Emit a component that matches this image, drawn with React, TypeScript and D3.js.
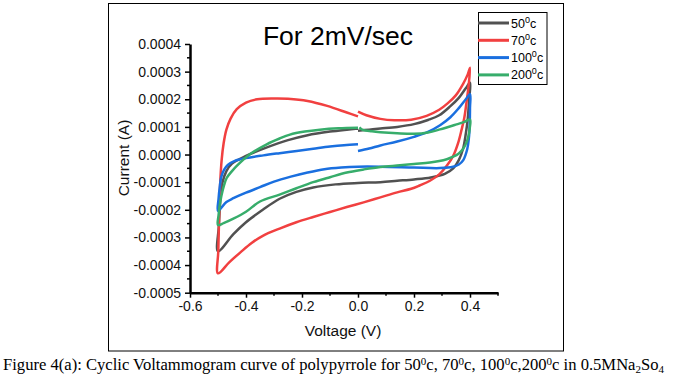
import React, { useEffect, useRef } from "react";
import * as d3 from "d3";

// axis ticks
const xTicks = [-0.6, -0.4, -0.2, 0.0, 0.2, 0.4];
const xMinor = [-0.5, -0.3, -0.1, 0.1, 0.3, 0.5];
const yTicks = [0.0004, 0.0003, 0.0002, 0.0001, 0, -0.0001, -0.0002, -0.0003, -0.0004, -0.0005];
const yMinor = [0.00035, 0.00025, 0.00015, 0.00005, -0.00005, -0.00015, -0.00025, -0.00035, -0.00045];

const temps = ["50", "70", "100", "200"];
const colors = ["#515151", "#F14040", "#1A6FDF", "#37AD6B"];

// [voltage (V), current (x1e-4 A)] — scan: 0 -> 0.4 -> -0.5 -> 0
const cv50: [number, number][] = [
  [0.0, 0.86], [0.04, 0.9], [0.08, 0.94], [0.14, 1.0], [0.2, 1.1], [0.25, 1.25], [0.29, 1.42],
  [0.33, 1.75], [0.36, 2.05], [0.385, 2.4], [0.4, 2.6],
  [0.397, 2.0], [0.392, 1.3], [0.385, 0.75], [0.375, 0.2], [0.36, -0.2], [0.34, -0.5], [0.31, -0.7],
  [0.26, -0.83], [0.2, -0.9], [0.14, -0.95], [0.08, -1.0], [0.0, -1.03], [-0.08, -1.08], [-0.16, -1.19],
  [-0.22, -1.35], [-0.28, -1.6], [-0.34, -2.0], [-0.4, -2.45], [-0.445, -2.88], [-0.5, -3.5],
  [-0.497, -2.6], [-0.492, -1.7], [-0.485, -1.05], [-0.47, -0.6], [-0.45, -0.33], [-0.4, -0.05],
  [-0.33, 0.24], [-0.25, 0.52], [-0.18, 0.7], [-0.1, 0.83], [-0.04, 0.9], [0.0, 0.94],
];

const cv70: [number, number][] = [
  [0.0, 1.55], [0.03, 1.42], [0.08, 1.29], [0.13, 1.24], [0.19, 1.26], [0.245, 1.4], [0.29, 1.62],
  [0.32, 1.85], [0.35, 2.15], [0.375, 2.55], [0.392, 2.9], [0.4, 3.14],
  [0.394, 2.4], [0.387, 1.85], [0.38, 1.35], [0.37, 0.9], [0.358, 0.43], [0.34, -0.05], [0.317, -0.41],
  [0.29, -0.72], [0.257, -0.95], [0.22, -1.12], [0.19, -1.24], [0.14, -1.37], [0.08, -1.55], [0.02, -1.73],
  [-0.04, -1.9], [-0.1, -2.08], [-0.16, -2.26], [-0.22, -2.45], [-0.28, -2.68], [-0.34, -2.94],
  [-0.38, -3.2], [-0.42, -3.54], [-0.46, -3.9], [-0.5, -4.3],
  [-0.499, -3.5], [-0.496, -2.3], [-0.492, -1.0], [-0.487, -0.2], [-0.48, 0.4], [-0.47, 0.9],
  [-0.455, 1.3], [-0.433, 1.64], [-0.4, 1.88], [-0.36, 2.0], [-0.3, 2.03], [-0.25, 2.02],
  [-0.18, 1.94], [-0.11, 1.76], [-0.04, 1.52], [0.0, 1.38],
];

const cv100: [number, number][] = [
  [0.0, 0.13], [0.04, 0.22], [0.08, 0.33], [0.14, 0.47], [0.2, 0.64], [0.25, 0.82], [0.293, 1.06],
  [0.33, 1.35], [0.36, 1.68], [0.385, 2.0], [0.4, 2.18],
  [0.4, 1.7], [0.399, 1.1], [0.396, 0.6], [0.39, 0.19], [0.376, -0.2], [0.36, -0.36], [0.34, -0.44],
  [0.293, -0.49], [0.2, -0.47], [0.08, -0.44], [0.0, -0.44], [-0.06, -0.47], [-0.12, -0.53],
  [-0.18, -0.65], [-0.24, -0.8], [-0.3, -0.98], [-0.35, -1.18], [-0.4, -1.38], [-0.445, -1.58],
  [-0.47, -1.72], [-0.5, -2.04],
  [-0.498, -1.6], [-0.494, -1.2], [-0.488, -0.8], [-0.478, -0.55], [-0.465, -0.38], [-0.44, -0.23],
  [-0.4, -0.13], [-0.338, -0.03], [-0.28, 0.05], [-0.219, 0.13], [-0.16, 0.21], [-0.1, 0.29],
  [-0.05, 0.34], [0.0, 0.37],
];

const cv200: [number, number][] = [
  [0.005, 0.98], [0.017, 0.89], [0.05, 0.84], [0.08, 0.81], [0.14, 0.77], [0.2, 0.75], [0.25, 0.8],
  [0.293, 0.91], [0.352, 1.09], [0.38, 1.18], [0.4, 1.27],
  [0.399, 0.95], [0.395, 0.7], [0.388, 0.45], [0.375, 0.2], [0.36, 0.04], [0.34, -0.08], [0.317, -0.17],
  [0.257, -0.29], [0.2, -0.34], [0.15, -0.39], [0.08, -0.45], [0.02, -0.54], [-0.04, -0.65],
  [-0.1, -0.82], [-0.16, -1.0], [-0.22, -1.22], [-0.28, -1.45], [-0.35, -1.7], [-0.4, -2.07],
  [-0.445, -2.32], [-0.48, -2.48], [-0.5, -2.55],
  [-0.498, -2.2], [-0.494, -1.85], [-0.488, -1.5], [-0.478, -1.1], [-0.469, -0.85], [-0.45, -0.6],
  [-0.433, -0.41], [-0.386, 0.01], [-0.326, 0.37], [-0.28, 0.58], [-0.243, 0.72], [-0.19, 0.83],
  [-0.136, 0.9], [-0.07, 0.95], [0.0, 0.97],
];

const curves = [cv50, cv70, cv100, cv200];

const SANS = "'Liberation Sans', Arial, sans-serif";
const SERIF = "'Liberation Serif', 'Times New Roman', serif";

const App = () => {
  const ref = useRef<SVGSVGElement>(null);

  useEffect(() => {
    const svg = d3.select(ref.current);
    svg.selectAll("*").remove();

    const x = d3.scaleLinear().domain([-0.6, 0.5]).range([190, 498]);
    const y = d3.scaleLinear().domain([-0.0005, 0.0004]).range([292.7, 44]);

    // outer frame
    svg.append("rect")
      .attr("x", 108.5).attr("y", 3.5).attr("width", 455).attr("height", 347.5)
      .attr("fill", "none").attr("stroke", "#000").attr("stroke-width", 1);

    // curves
    const line = d3.line<[number, number]>()
      .x((d) => x(d[0]))
      .y((d) => y(d[1] * 1e-4))
      .curve(d3.curveCatmullRom.alpha(0.5));

    svg.append("g")
      .selectAll("path")
      .data(curves)
      .enter()
      .append("path")
      .attr("d", (d) => line(d))
      .attr("fill", "none")
      .attr("stroke", (d, i) => colors[i])
      .attr("stroke-width", 2.5)
      .attr("stroke-linejoin", "round");

    // axes
    const xAxis = svg.append("g")
      .attr("transform", `translate(0,${y(-0.0005)})`)
      .call(d3.axisBottom(x).tickValues(xTicks).tickSize(5).tickSizeOuter(0).tickPadding(3)
        .tickFormat((d) => (d as number).toFixed(1)));
    xAxis.append("g").selectAll("line").data(xMinor).enter().append("line")
      .attr("x1", (d) => x(d)).attr("x2", (d) => x(d)).attr("y1", 0).attr("y2", 3)
      .attr("stroke", "#000").attr("stroke-width", 1.5);

    const yAxis = svg.append("g")
      .attr("transform", `translate(${x(-0.6)},0)`)
      .call(d3.axisLeft(y).tickValues(yTicks).tickSize(5).tickSizeOuter(0).tickPadding(4)
        .tickFormat((d) => (d as number).toFixed(4)));
    yAxis.append("g").selectAll("line").data(yMinor).enter().append("line")
      .attr("x1", 0).attr("x2", -3).attr("y1", (d) => y(d)).attr("y2", (d) => y(d))
      .attr("stroke", "#000").attr("stroke-width", 1.5);

    [xAxis, yAxis].forEach((g) => {
      g.select(".domain").attr("stroke-width", 2.5);
      g.selectAll(".tick line").attr("stroke-width", 1.5);
      g.selectAll(".tick text")
        .attr("font-family", SANS).attr("font-size", 14).attr("fill", "#111");
    });

    // titles
    svg.append("text")
      .attr("x", 338).attr("y", 45).attr("text-anchor", "middle")
      .attr("font-family", SANS).attr("font-size", 26.5).attr("fill", "#000")
      .text("For 2mV/sec");

    svg.append("text")
      .attr("x", 343).attr("y", 336).attr("text-anchor", "middle")
      .attr("font-family", SANS).attr("font-size", 15.5).attr("fill", "#111")
      .text("Voltage (V)");

    svg.append("text")
      .attr("transform", "translate(129,158) rotate(-90)").attr("text-anchor", "middle")
      .attr("font-family", SANS).attr("font-size", 15.5).attr("fill", "#111")
      .text("Current (A)");

    // legend
    const leg = svg.append("g");
    leg.append("rect")
      .attr("x", 478.5).attr("y", 12.5).attr("width", 68.5).attr("height", 72)
      .attr("fill", "#fff").attr("stroke", "#000").attr("stroke-width", 1);
    temps.forEach((t, i) => {
      const ly = 23 + i * 17.3;
      leg.append("line")
        .attr("x1", 478).attr("x2", 509).attr("y1", ly).attr("y2", ly)
        .attr("stroke", colors[i]).attr("stroke-width", 3);
      const tx = leg.append("text")
        .attr("x", 511).attr("y", ly + 4.5)
        .attr("font-family", SANS).attr("font-size", 12.5).attr("fill", "#000");
      tx.append("tspan").text(t);
      tx.append("tspan").attr("font-size", 9).attr("dy", -5).text("0");
      tx.append("tspan").attr("dy", 5).text("c");
    });

    // caption
    const cap = svg.append("text")
      .attr("x", 3).attr("y", 370)
      .attr("font-family", SERIF).attr("font-size", 16.6).attr("fill", "#000");
    const parts: [string, string][] = [
      ["Figure 4(a): Cyclic Voltammogram curve of polypyrrole for 50", ""], ["0", "sup"], ["c, 70", ""],
      ["0", "sup"], ["c, 100", ""], ["0", "sup"], ["c,200", ""], ["0", "sup"], ["c in 0.5MNa", ""],
      ["2", "sub"], ["So", ""], ["4", "sub"],
    ];
    let shift = 0;
    parts.forEach(([s, kind]) => {
      const target = kind === "sup" ? -5.5 : kind === "sub" ? 2.5 : 0;
      cap.append("tspan")
        .attr("dy", target - shift)
        .attr("font-size", kind ? 11 : 16.6)
        .text(s);
      shift = target;
    });
  }, []);

  return (
    <svg
      ref={ref}
      width={679}
      height={385}
      style={{ position: "absolute", left: 0, top: 0, background: "#fff" }}
    />
  );
};

export default App;
